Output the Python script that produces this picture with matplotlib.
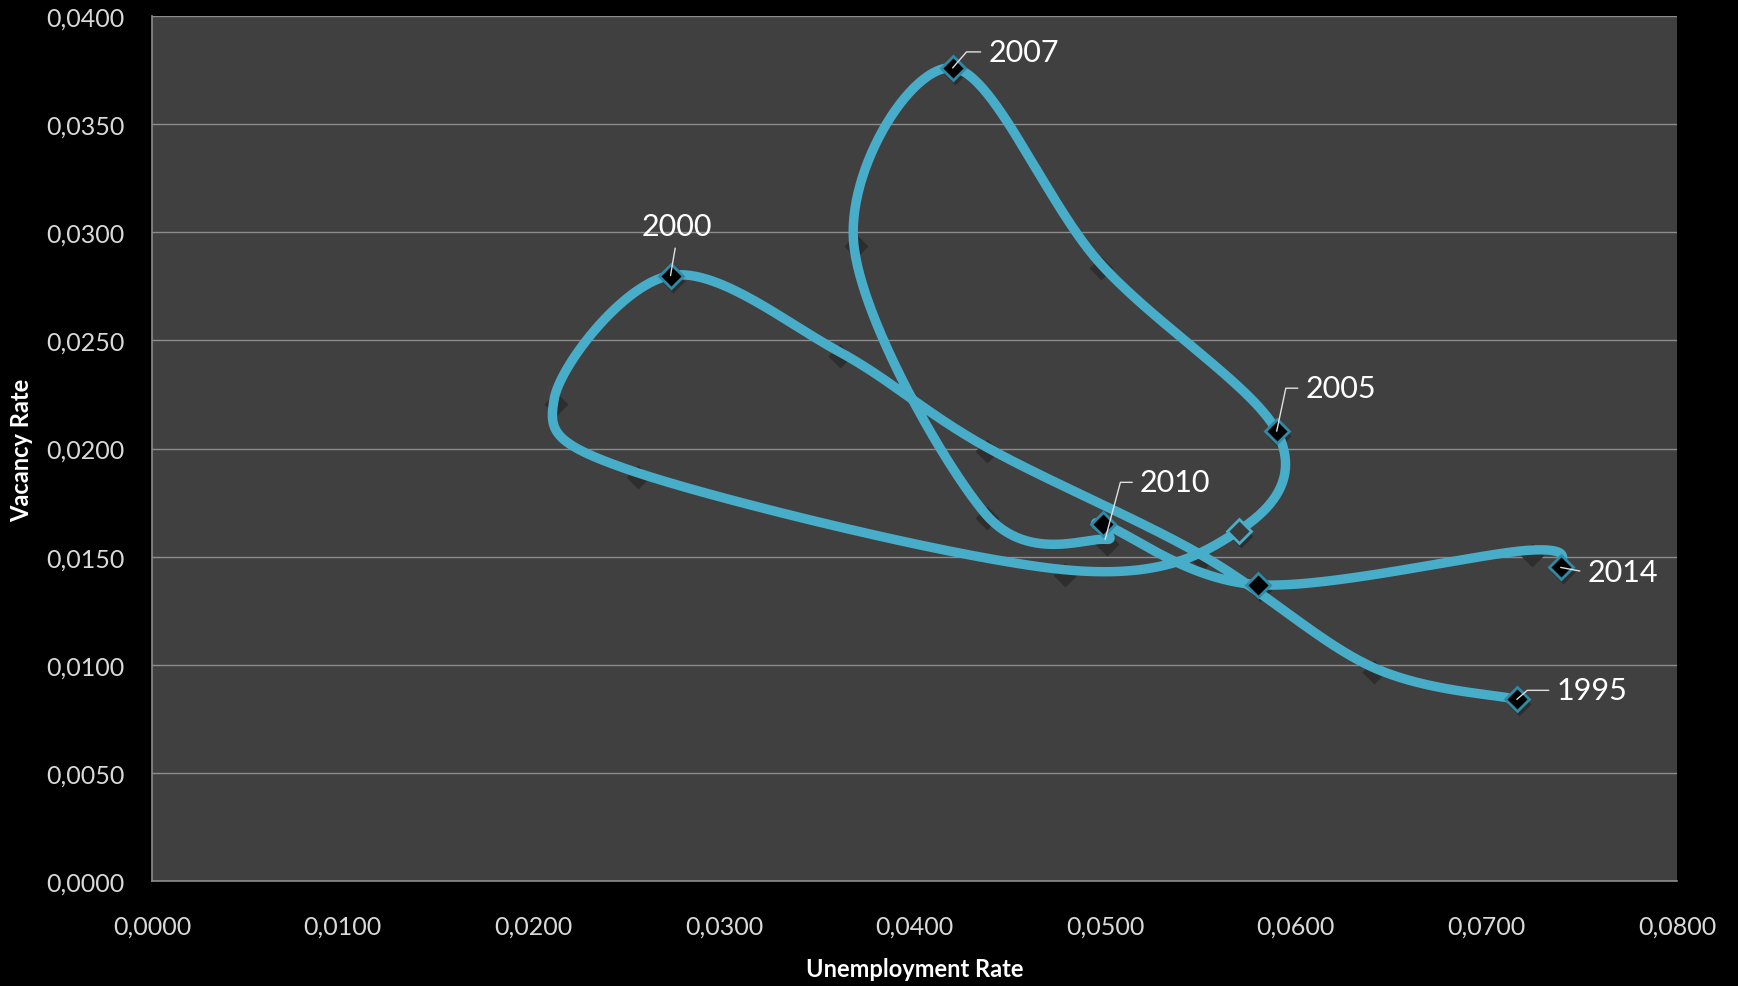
import matplotlib
matplotlib.use("Agg")
import matplotlib.pyplot as plt
import matplotlib.transforms as mtransforms
from matplotlib.ticker import FuncFormatter, MultipleLocator
import numpy as np

plt.rcParams['font.family'] = ['Lato', 'DejaVu Sans']

# Beveridge curve data
years = list(range(1995, 2015))
unemployment = [0.0716, 0.0640, 0.0550, 0.0437, 0.0360, 0.0272, 0.0211, 0.0254,
                0.0478, 0.0570, 0.0590, 0.0497, 0.0420, 0.0368, 0.0437, 0.0500,
                0.0499, 0.0580, 0.0723, 0.0739]
vacancy = [0.0084, 0.0099, 0.0151, 0.0201, 0.0245, 0.0280, 0.0223, 0.0189,
           0.0144, 0.0162, 0.0208, 0.0286, 0.0376, 0.0296, 0.0170, 0.0158,
           0.0165, 0.0137, 0.0153, 0.0145]

highlight_years = [1995, 2000, 2005, 2007, 2011, 2012, 2014]
outlined_years = [2004]
label_years = [1995, 2000, 2005, 2007, 2010, 2014]

LINE = "#47adc9"
BG = "#404040"

W, H = 1738, 987
fig = plt.figure(figsize=(W / 100, H / 100), dpi=100, facecolor="black")
ax = fig.add_axes([152 / W, 1 - 882 / H, 1525 / W, 865 / H])
ax.set_facecolor(BG)
ax.set_xlim(0, 0.08)
ax.set_ylim(0, 0.04)

# Excel style smoothed line (Bezier through the points), done in screen-like units
sx, sy = 1525 / 0.08, 865 / 0.04
P = np.column_stack([np.array(unemployment) * sx, np.array(vacancy) * sy])
ext = np.vstack([P[0], P, P[-1]])
t = np.linspace(0, 1, 60)[:, None]
segs = []
for i in range(len(P) - 1):
    p0, p1, p2, p3 = ext[i], ext[i + 1], ext[i + 2], ext[i + 3]
    c1 = p1 + (p2 - p0) / 6
    c2 = p2 - (p3 - p1) / 6
    segs.append((1 - t) ** 3 * p1 + 3 * (1 - t) ** 2 * t * c1
                + 3 * (1 - t) * t ** 2 * c2 + t ** 3 * p2)
curve = np.vstack(segs)
ax.plot(curve[:, 0] / sx, curve[:, 1] / sy, color=LINE, lw=6.8,
        solid_capstyle="round", solid_joinstyle="round", zorder=3)

# marker shadows
shadow = mtransforms.offset_copy(ax.transData, fig=fig, x=2, y=-5, units="dots")
ax.plot(unemployment, vacancy, ls="none", marker="D", ms=12, mfc="#2c2c2c",
        mec="none", alpha=0.9, transform=shadow, zorder=2)

idx = [years.index(y) for y in outlined_years]
ax.plot([unemployment[i] for i in idx], [vacancy[i] for i in idx], ls="none",
        marker="D", ms=12, mfc="#3a3a3a", mec=LINE, mew=2, zorder=4)

idx = [years.index(y) for y in highlight_years]
ax.plot([unemployment[i] for i in idx], [vacancy[i] for i in idx], ls="none",
        marker="D", ms=12.5, mfc="black", mec="#2f8aa6", mew=2, zorder=5)

# data labels with leader lines: (text offset px, leader angle at the point)
label_pos = {1995: (75, 9, 41), 2000: (6, 49, None), 2005: (64, 43, 78),
             2007: (71, 16, 49), 2010: (70, 57, 75), 2014: (62, -5, None)}
for yr in label_years:
    i = years.index(yr)
    dx, dy, ang = label_pos[yr]
    if ang is None:
        cs = "arc3"
        rp = (0.5, 0) if dy > 20 else (0, 0.5)
    else:
        cs = f"angle,angleA=180,angleB={ang},rad=0"
        rp = (0, 0.5)
    ax.annotate(str(yr), xy=(unemployment[i], vacancy[i]), xytext=(dx, dy),
                textcoords="offset pixels", ha="center", va="center",
                fontsize=22, color="white", zorder=6,
                bbox=dict(boxstyle="square,pad=0.25", fc="none", ec="none"),
                arrowprops=dict(arrowstyle="-", color="#e0e0e0", lw=1,
                                connectionstyle=cs, relpos=rp,
                                shrinkA=0, shrinkB=0))

ax.yaxis.set_major_locator(MultipleLocator(0.005))
ax.xaxis.set_major_locator(MultipleLocator(0.01))
fmt = FuncFormatter(lambda v, p: f"{v:.4f}".replace(".", ","))
ax.xaxis.set_major_formatter(fmt)
ax.yaxis.set_major_formatter(fmt)
ax.tick_params(length=0, labelsize=18, labelcolor="#d9d9d9")
ax.tick_params(axis="y", pad=20)
ax.tick_params(axis="x", pad=24)
ax.grid(True, axis="y", color="#8c8c8c", lw=1)
ax.set_axisbelow(True)
for s in ["top", "right"]:
    ax.spines[s].set_visible(False)
for s in ["left", "bottom"]:
    ax.spines[s].set_color("#8c8c8c")
    ax.spines[s].set_linewidth(1.2)

fig.text(915 / W, 1 - 970 / H, "Unemployment Rate", ha="center", va="center",
         fontsize=17, fontweight="bold", color="white")
fig.text(22 / W, 1 - 450 / H, "Vacancy Rate", ha="center", va="center",
         rotation=90, fontsize=17, fontweight="bold", color="white")

fig.savefig("out.png", dpi=100, facecolor="black")
